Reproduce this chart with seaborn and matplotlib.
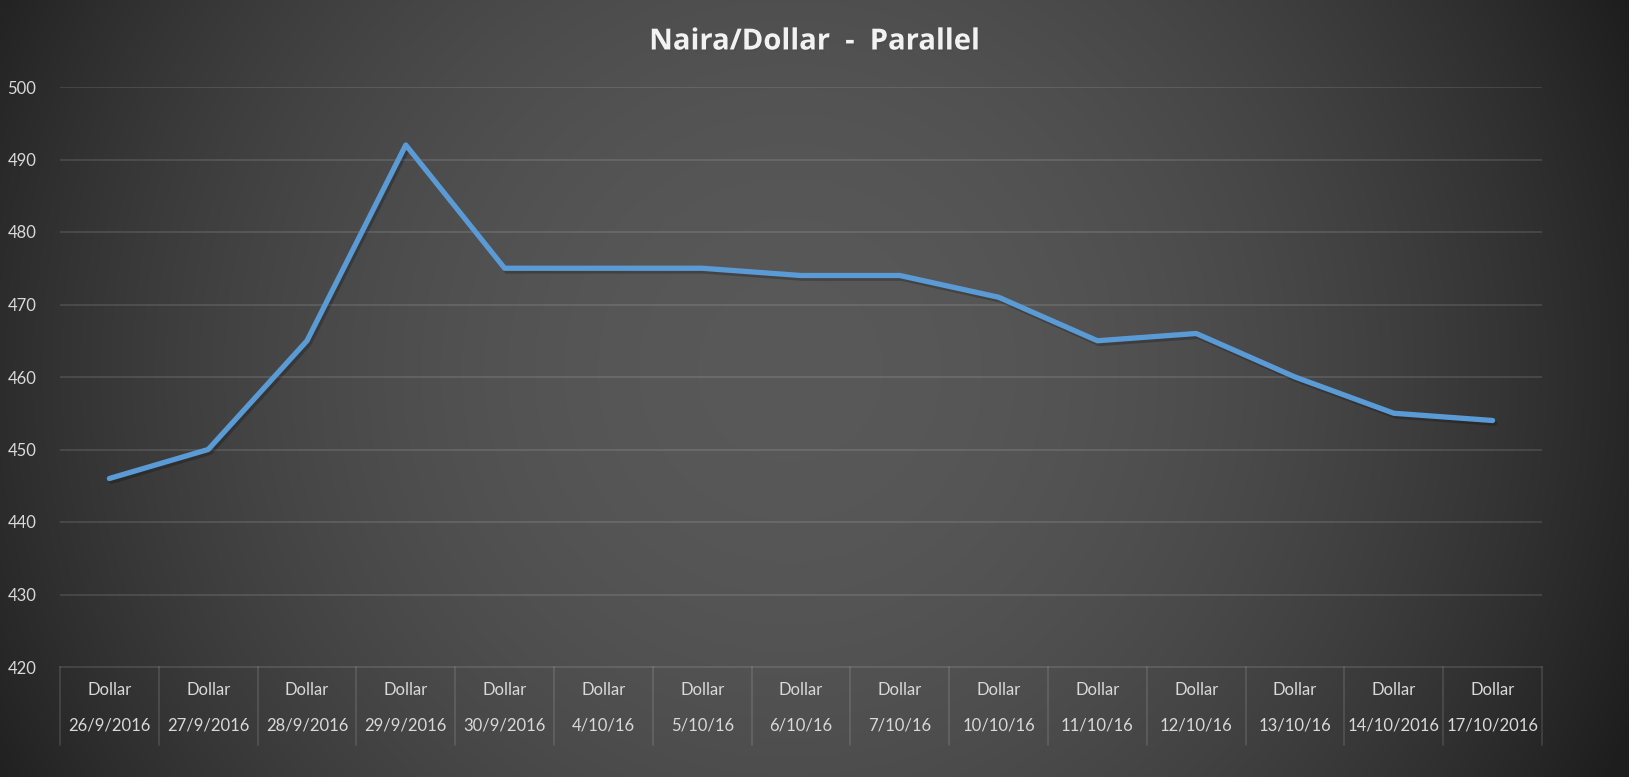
import numpy as np
import pandas as pd
import matplotlib
matplotlib.use('Agg')
import matplotlib.pyplot as plt
import matplotlib.transforms as mtransforms
import matplotlib.patheffects as pe
import seaborn as sns

dates = ['26/9/2016', '27/9/2016', '28/9/2016', '29/9/2016', '30/9/2016',
         '4/10/16', '5/10/16', '6/10/16', '7/10/16', '10/10/16',
         '11/10/16', '12/10/16', '13/10/16', '14/10/2016', '17/10/2016']
currency = ['Dollar'] * len(dates)
rates = [446, 450, 465, 492, 475, 475, 475, 474, 474, 471, 465, 466, 460, 455, 454]
yticks = [420, 430, 440, 450, 460, 470, 480, 490, 500]

df = pd.DataFrame({'date': dates, 'rate': rates})

sns.set_style('dark')
plt.rcParams['font.family'] = ['Lato', 'DejaVu Sans']

fig = plt.figure(figsize=(16.29, 7.77), dpi=100)

# radial gradient background
bg = fig.add_axes([0, 0, 1, 1], zorder=-1)
yy, xx = np.mgrid[0:777, 0:1629]
d2 = (xx - 790.0) ** 2 + (yy - 370.0) ** 2
shade = np.clip(0.35 - 2.77e-7 * d2, 0.12, 0.35)
bg.imshow(shade, cmap='gray', vmin=0, vmax=1, aspect='auto', extent=[0, 1, 0, 1])
bg.axis('off')

ax = fig.add_axes([60 / 1629, 1 - 667 / 777, (1542 - 60) / 1629, 580 / 777])
ax.set_facecolor('none')

sns.lineplot(data=df, x='date', y='rate', ax=ax, color='#5B9BD5', linewidth=3.8,
             solid_capstyle='round', solid_joinstyle='round', sort=False,
             path_effects=[pe.SimpleLineShadow(offset=(1.5, -2), shadow_color='black', alpha=0.22),
                           pe.Normal()])

ax.set_xlim(-0.5, len(dates) - 0.5)
ax.set_ylim(420, 500)
ax.set_yticks(yticks)
ax.set_yticklabels([str(v) for v in yticks], color='#d9d9d9', fontsize=12)
ax.tick_params(axis='y', length=0, pad=17)
ax.set_xticks([])
ax.set_xlabel('')
ax.set_ylabel('')
ax.grid(False)
for v in yticks[1:]:
    ax.axhline(v, color='white', alpha=0.13, linewidth=1.2, zorder=0)
for s in ax.spines.values():
    s.set_visible(False)

# category label table below axis
trans = mtransforms.blended_transform_factory(ax.transData, ax.transAxes)
ax.plot([-0.5, len(dates) - 0.5], [0, 0], transform=trans, color='white',
        alpha=0.13, linewidth=1.2, clip_on=False)
for i in range(len(dates) + 1):
    ax.plot([i - 0.5, i - 0.5], [0, -0.135], transform=trans, color='white',
            alpha=0.13, linewidth=1.2, clip_on=False)
for i, (c, d) in enumerate(zip(currency, dates)):
    ax.text(i, -0.04, c, transform=trans, ha='center', va='center',
            color='#d9d9d9', fontsize=12)
    ax.text(i, -0.101, d, transform=trans, ha='center', va='center',
            color='#d9d9d9', fontsize=12)

fig.text(0.5, 1 - 42 / 777, 'Naira/Dollar  -  Parallel', ha='center', va='center',
         color='#f2f2f2', fontsize=21, fontweight='bold', family=['Open Sans', 'DejaVu Sans'],
         path_effects=[pe.withSimplePatchShadow(offset=(1, -1.5), alpha=0.4)])

fig.savefig('out.png', dpi=100)
